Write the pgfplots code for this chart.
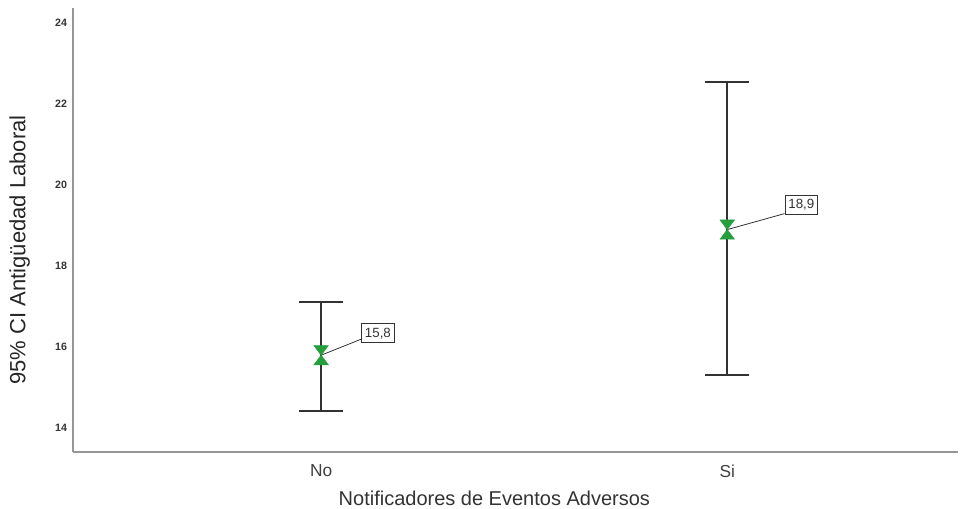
\documentclass[border=0pt]{standalone}
\usepackage{pgfplots}
\pgfplotsset{compat=1.18}
\usepackage{fontspec}
\setmainfont{Liberation Sans}
\definecolor{mkgreen}{RGB}{38,158,62}
\definecolor{barc}{RGB}{50,50,50}
\definecolor{axc}{RGB}{150,150,150}
\begin{document}
\begin{tikzpicture}
\begin{axis}[
  at={(0,0)}, anchor=south west,
  scale only axis,
  width=664pt, height=333pt,
  xmin=-0.611, xmax=1.569,
  ymin=13.41, ymax=24.37,
  axis x line*=bottom, axis y line*=left,
  axis line style={axc, line width=1.1pt},
  xtick={0,1}, xticklabels={No,Si},
  ytick={14,16,18,20,22,24},
  /pgf/number format/assume math mode=true,
  major tick length=0pt,
  tick style={draw=none},
  yticklabel style={font=\fontsize{8}{9}\selectfont\bfseries, text=black!80, xshift=-1pt},
  xticklabel style={font=\fontsize{13}{15}\selectfont, text=black!75, yshift=-6pt},
  xlabel={Notificadores de Eventos Adversos},
  ylabel={95\% CI Antigüedad Laboral},
  xlabel style={font=\fontsize{15}{17}\selectfont, text=black!80, yshift=-3pt, xshift=-16pt},
  ylabel style={font=\fontsize{16.5}{19}\selectfont, text=black!85, yshift=12pt, xshift=-15pt},
  clip=false,
]
% error bars
\addplot[draw=none, mark=none,
  error bars/.cd, y dir=both, y explicit,
  error bar style={barc, line width=1.3pt},
  error mark options={barc, line width=1.3pt, mark size=16.5pt, rotate=90}]
  coordinates {
    (0,15.8) += (0,1.31) -= (0,1.38)
    (1,18.9) += (0,3.64) -= (0,3.59)
  };
% hourglass markers: upper triangle (pointing down)
\addplot[only marks, mark=triangle*, mark size=4.8pt,
  mark options={fill=mkgreen, draw=mkgreen, yshift=4.8pt, rotate=180, xscale=1.3}]
  coordinates {(0,15.8) (1,18.9)};
% lower triangle (pointing up)
\addplot[only marks, mark=triangle*, mark size=4.8pt,
  mark options={fill=mkgreen, draw=mkgreen, yshift=-4.8pt, xscale=1.3}]
  coordinates {(0,15.8) (1,18.9)};
% labels
\draw[barc, line width=0.6pt] (axis cs:0,15.8) -- ++(30pt,12pt)
  node[anchor=south west, yshift=-3pt, draw=black!80, line width=0.7pt, fill=white,
       inner xsep=2.5pt, inner ysep=3pt, font=\fontsize{10}{11}\selectfont, text=black!80]{15,8};
\draw[barc, line width=0.6pt] (axis cs:1,18.9) -- ++(43pt,12pt)
  node[anchor=south west, yshift=-1pt, draw=black!80, line width=0.7pt, fill=white,
       inner xsep=2.5pt, inner ysep=3pt, font=\fontsize{10}{11}\selectfont, text=black!80]{18,9};
\end{axis}
\pgfresetboundingbox
\path (-54.75pt,-42pt) rectangle (665.25pt,339pt);
\end{tikzpicture}
\end{document}
